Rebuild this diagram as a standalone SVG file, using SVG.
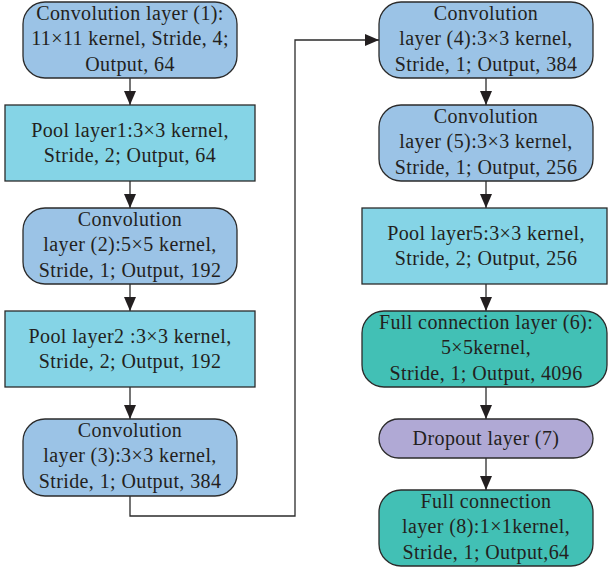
<svg xmlns="http://www.w3.org/2000/svg" width="608" height="569" viewBox="0 0 608 569">
<style>
.conv{fill:#9bc3e6;stroke:#2b2b2b;stroke-width:1.3}
.pool{fill:#85d4e6;stroke:#2b2b2b;stroke-width:1.3}
.fc{fill:#42c0b5;stroke:#2b2b2b;stroke-width:1.3}
.drop{fill:#b0a9d5;stroke:#2b2b2b;stroke-width:1.3}
text{font-family:"Liberation Serif","Times New Roman",serif;font-size:20px;letter-spacing:0.4px;fill:#231f20;text-anchor:middle}
.ln{fill:none;stroke:#2b2b2b;stroke-width:1.3}
</style>
<defs>
<marker id="ah" markerWidth="14" markerHeight="12" refX="14" refY="6" orient="auto" markerUnits="userSpaceOnUse">
<path d="M0,0 L14,6 L0,12 Z" fill="#231f20"/>
</marker>
</defs>
<g id="connectors">
<line class="ln" x1="130" y1="78" x2="130" y2="105" marker-end="url(#ah)"/>
<line class="ln" x1="130" y1="181" x2="130" y2="208" marker-end="url(#ah)"/>
<line class="ln" x1="130" y1="284" x2="130" y2="311" marker-end="url(#ah)"/>
<line class="ln" x1="130" y1="387" x2="130" y2="419" marker-end="url(#ah)"/>
<polyline class="ln" points="130,496 130,516 295,516 295,40 379,40" marker-end="url(#ah)"/>
<line class="ln" x1="486" y1="78" x2="486" y2="105" marker-end="url(#ah)"/>
<line class="ln" x1="486" y1="181" x2="486" y2="208" marker-end="url(#ah)"/>
<line class="ln" x1="486" y1="284" x2="486" y2="311" marker-end="url(#ah)"/>
<line class="ln" x1="486" y1="387" x2="486" y2="419" marker-end="url(#ah)"/>
<line class="ln" x1="486" y1="458" x2="486" y2="490" marker-end="url(#ah)"/>
</g>
<g id="conv1">
<rect class="conv" x="23" y="2" width="214" height="76" rx="22"/>
<text x="130" y="20">Convolution layer (1):</text>
<text x="130" y="45">11×11 kernel, Stride, 4;</text>
<text x="130" y="71">Output, 64</text>
</g>
<g id="pool1">
<rect class="pool" x="5" y="105" width="250" height="76"/>
<text x="130" y="137">Pool layer1:3×3 kernel,</text>
<text x="130" y="162">Stride, 2; Output, 64</text>
</g>
<g id="conv2">
<rect class="conv" x="23" y="208" width="214" height="76" rx="22"/>
<text x="130" y="226">Convolution</text>
<text x="130" y="251">layer (2):5×5 kernel,</text>
<text x="130" y="277">Stride, 1; Output, 192</text>
</g>
<g id="pool2">
<rect class="pool" x="5" y="311" width="250" height="76"/>
<text x="130" y="343">Pool layer2 :3×3 kernel,</text>
<text x="130" y="368">Stride, 2; Output, 192</text>
</g>
<g id="conv3">
<rect class="conv" x="23" y="419" width="214" height="77" rx="22"/>
<text x="130" y="437">Convolution</text>
<text x="130" y="462">layer (3):3×3 kernel,</text>
<text x="130" y="488">Stride, 1; Output, 384</text>
</g>
<g id="conv4">
<rect class="conv" x="379" y="2" width="214" height="76" rx="22"/>
<text x="486" y="20">Convolution</text>
<text x="486" y="45">layer (4):3×3 kernel,</text>
<text x="486" y="71">Stride, 1; Output, 384</text>
</g>
<g id="conv5">
<rect class="conv" x="379" y="105" width="214" height="76" rx="22"/>
<text x="486" y="123">Convolution</text>
<text x="486" y="148">layer (5):3×3 kernel,</text>
<text x="486" y="174">Stride, 1; Output, 256</text>
</g>
<g id="pool5">
<rect class="pool" x="362" y="208" width="245" height="76"/>
<text x="486" y="240">Pool layer5:3×3 kernel,</text>
<text x="486" y="265">Stride, 2; Output, 256</text>
</g>
<g id="fc6">
<rect class="fc" x="362" y="311" width="245" height="76" rx="22"/>
<text x="486" y="329">Full connection layer (6):</text>
<text x="486" y="354">5×5kernel,</text>
<text x="486" y="380">Stride, 1; Output, 4096</text>
</g>
<g id="dropout">
<rect class="drop" x="379" y="419" width="214" height="39" rx="19.5"/>
<text x="486" y="445">Dropout layer (7)</text>
</g>
<g id="fc8">
<rect class="fc" x="379" y="490" width="214" height="76" rx="22"/>
<text x="486" y="508">Full connection</text>
<text x="486" y="533">layer (8):1×1kernel,</text>
<text x="486" y="559">Stride, 1; Output,64</text>
</g>
</svg>
